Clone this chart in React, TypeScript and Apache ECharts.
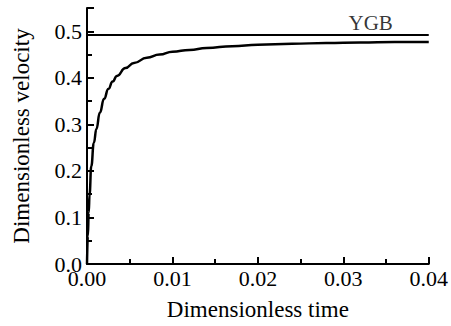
import React, { useEffect, useRef } from "react";
import * as echarts from "echarts";

const timeValues = [0, 0.0001, 0.0002, 0.0003, 0.0005, 0.0008, 0.0011, 0.0015, 0.002, 0.0025, 0.003, 0.0035, 0.0045, 0.0055, 0.007, 0.0085, 0.01, 0.012, 0.014, 0.017, 0.02, 0.024, 0.028, 0.032, 0.036, 0.04];
const velocityValues = [0, 0.06, 0.11, 0.15, 0.21, 0.26, 0.29, 0.325, 0.355, 0.376, 0.392, 0.404, 0.421, 0.432, 0.443, 0.45, 0.456, 0.46, 0.464, 0.468, 0.471, 0.473, 0.475, 0.476, 0.477, 0.477];
const ygbValue = 0.492;
const ygbRange = [0, 0.04];
const ygbLabelX = 0.0332;
const ygbLabel = "YGB";

const FONT = "'Liberation Serif', 'Times New Roman', serif";

export default function App() {
  const ref = useRef<HTMLDivElement>(null);
  useEffect(() => {
    if (!ref.current) return;
    const chart = echarts.init(ref.current, null, { renderer: "svg" });
    const axisCommon = {
      axisLine: { show: true, lineStyle: { color: "#000", width: 2 } },
      axisTick: { show: true, inside: true, length: 7, lineStyle: { color: "#000", width: 2 } },
      minorTick: { show: true, splitNumber: 2, length: 5, lineStyle: { color: "#000", width: 2 } },
      splitLine: { show: false },
      axisLabel: { color: "#000", fontFamily: FONT, fontSize: 22, showMaxLabel: true },
      nameTextStyle: { color: "#000", fontFamily: FONT, fontSize: 23 },
    };
    chart.setOption({
      animation: false,
      backgroundColor: "#fff",
      grid: { left: 87, right: 17, top: 8, bottom: 60 },
      xAxis: {
        type: "value",
        min: 0,
        max: 0.04,
        interval: 0.01,
        name: "Dimensionless time",
        nameLocation: "middle",
        nameGap: 34,
        ...axisCommon,
        axisLabel: { ...axisCommon.axisLabel, margin: 3, formatter: (v: number) => v.toFixed(2) },
      },
      yAxis: {
        type: "value",
        min: 0,
        max: 0.55,
        interval: 0.1,
        name: "Dimensionless velocity",
        nameLocation: "middle",
        nameGap: 54,
        ...axisCommon,
        axisLabel: {
          ...axisCommon.axisLabel,
          margin: 5,
          showMaxLabel: false,
          formatter: (v: number) => v.toFixed(1),
        },
      },
      series: [
        {
          type: "line",
          data: timeValues.map((t, i) => [t, velocityValues[i]]),
          showSymbol: false,
          smooth: 0.5,
          smoothMonotone: "x",
          lineStyle: { color: "#000", width: 2.5 },
        },
        {
          type: "line",
          data: ygbRange.map((t) => [t, ygbValue]),
          showSymbol: false,
          lineStyle: { color: "#000", width: 2 },
        },
        {
          type: "scatter",
          data: [[ygbLabelX, ygbValue]],
          symbolSize: 0,
          label: {
            show: true,
            position: "top",
            distance: 1,
            formatter: ygbLabel,
            color: "#000",
            fontFamily: FONT,
            fontSize: 21,
          },
        },
      ],
    });
    return () => chart.dispose();
  }, []);
  return <div ref={ref} style={{ width: 451, height: 326, position: "absolute", left: 0, top: 0 }} />;
}
